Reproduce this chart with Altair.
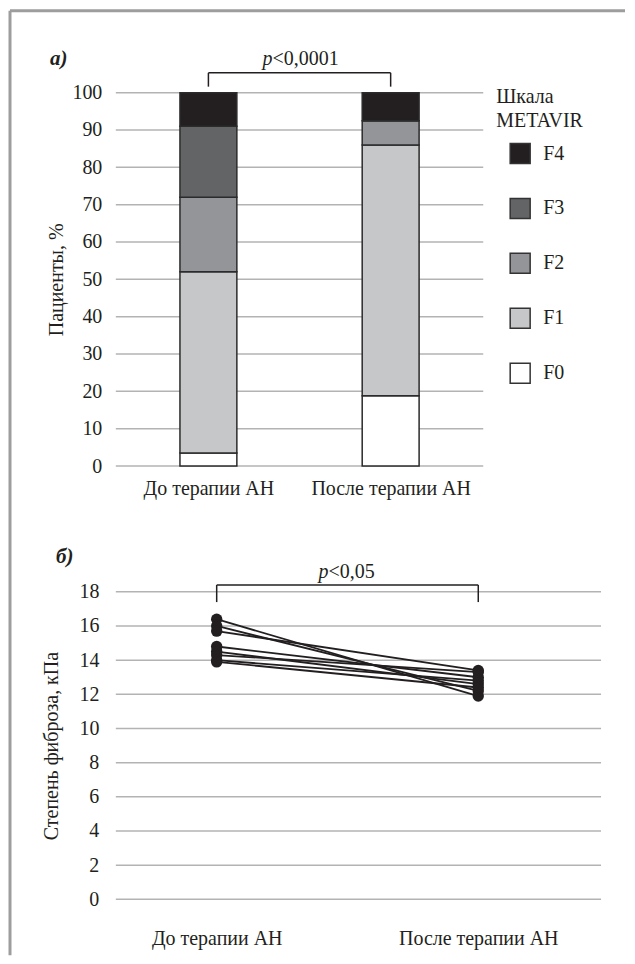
import altair as alt
import pandas as pd

# ---- data ----
phases = ["До терапии АН", "После терапии АН"]
stages = ["F0", "F1", "F2", "F3", "F4"]
before_pct = [3.5, 48.5, 20, 19, 9]
after_pct = [18.8, 67.2, 6.5, 0, 7.5]
stage_colors = ["#ffffff", "#c6c7c9", "#939598", "#636466", "#231f20"]

kpa_before = [16.4, 16.0, 15.7, 14.8, 14.5, 14.3, 14.0, 13.9]
kpa_after = [11.9, 12.2, 13.4, 13.0, 12.6, 13.3, 12.8, 12.4]

pct_ticks = list(range(0, 101, 10))
kpa_ticks = list(range(0, 19, 2))

FONT = "Liberation Serif"
INK = "#231f20"
GRID = "#b3b3b3"
FS = 20

rows = []
for ph, vals in zip(phases, [before_pct, after_pct]):
    for i, (st, v) in enumerate(zip(stages, vals)):
        rows.append({"phase": ph, "stage": st, "value": v, "ord": i})
bars_df = pd.DataFrame(rows)

pts = []
for pid, (b, a) in enumerate(zip(kpa_before, kpa_after)):
    pts.append({"pid": pid, "phase": phases[0], "kpa": b})
    pts.append({"pid": pid, "phase": phases[1], "kpa": a})
pts_df = pd.DataFrame(pts)

one = pd.DataFrame({"k": [0]})

# ---- top chart ----
TW, TH = 368, 374
YT1 = "Пациенты, %"
xtop = alt.Scale(type="point", domain=phases, padding=0.508, align=0.5)
ytop = alt.Scale(domain=[0, 100])
xax_top = alt.Axis(title=None, labelAngle=0, ticks=False, domain=False, grid=False,
                   labelPadding=13, labelFontSize=FS, labelOverlap=False)
yax_top = alt.Axis(values=pct_ticks, title=YT1, ticks=False, domain=False,
                   grid=False, labelOverlap=False, labelPadding=14, titlePadding=5,
                   labelFontSize=FS, titleFontSize=FS, titleFontWeight="normal")

grid_top = alt.Chart(pd.DataFrame({"v": pct_ticks})).mark_rule(color=GRID, strokeWidth=1.5).encode(
    y=alt.Y("v:Q", scale=ytop, axis=yax_top, title=YT1),
    x=alt.value(0), x2=alt.value(TW))

bars = alt.Chart(bars_df).mark_bar(size=57, stroke="#2b2b2b", strokeWidth=1.5).encode(
    x=alt.X("phase:N", scale=xtop, sort=phases, axis=xax_top, title=None),
    y=alt.Y("value:Q", stack="zero", scale=ytop, axis=yax_top, title=YT1),
    color=alt.Color("stage:N", scale=alt.Scale(domain=stages, range=stage_colors),
                    legend=alt.Legend(title=["Шкала", "METAVIR"], orient="none",
                                      legendX=381, legendY=-6,
                                      values=["F4", "F3", "F2", "F1", "F0"],
                                      symbolType="square", symbolSize=400,
                                      symbolStrokeColor="#333333", symbolStrokeWidth=1.5,
                                      rowPadding=29, labelFontSize=FS, titleFontSize=FS,
                                      titleFontWeight="normal", titleLineHeight=24,
                                      labelOffset=12, symbolOffset=13, titlePadding=12)),
    order=alt.Order("ord:Q"),
)

br_top = pd.DataFrame({"a": [phases[0]], "b": [phases[1]], "y": [105.3], "y2": [101.6]})
bracket_h = alt.Chart(br_top).mark_rule(color=INK, strokeWidth=1.5).encode(
    x=alt.X("a:N", scale=xtop, axis=xax_top, title=None), x2="b:N",
    y=alt.Y("y:Q", scale=ytop, axis=yax_top, title=YT1))
bracket_l = alt.Chart(br_top).mark_rule(color=INK, strokeWidth=1.5).encode(
    x=alt.X("a:N", scale=xtop, axis=xax_top, title=None),
    y=alt.Y("y:Q", scale=ytop, axis=yax_top, title=YT1), y2="y2:Q")
bracket_r = alt.Chart(br_top).mark_rule(color=INK, strokeWidth=1.5).encode(
    x=alt.X("b:N", scale=xtop, axis=xax_top, title=None),
    y=alt.Y("y:Q", scale=ytop, axis=yax_top, title=YT1), y2="y2:Q")

lab_a = alt.Chart(pd.DataFrame({"t": ["а)"]})).mark_text(
    font=FONT, fontSize=21, fontWeight="bold", fontStyle="italic", color=INK, align="left").encode(
    x=alt.value(-66), y=alt.value(-34), text="t:N")
p1 = alt.Chart(pd.DataFrame({"t": ["p"]})).mark_text(
    font=FONT, fontSize=FS, fontStyle="italic", color=INK, align="right").encode(
    x=alt.value(157), y=alt.value(-34), text="t:N")
p1b = alt.Chart(pd.DataFrame({"t": ["<0,0001"]})).mark_text(
    font=FONT, fontSize=FS, color=INK, align="left").encode(
    x=alt.value(157), y=alt.value(-34), text="t:N")

frame_v = alt.Chart(one).mark_rule(color="#9d9d9d", strokeWidth=3).encode(
    x=alt.value(-106), y=alt.value(-82), y2=alt.value(864))
frame_h = alt.Chart(one).mark_rule(color="#9d9d9d", strokeWidth=3).encode(
    x=alt.value(-106), x2=alt.value(510), y=alt.value(-82))

top = alt.layer(frame_v, frame_h, grid_top, bars, bracket_h, bracket_l, bracket_r,
                lab_a, p1, p1b).properties(width=TW, height=TH)

# ---- bottom chart ----
BW, BH = 486, 308
YT = "Степень фиброза, кПа"
xbot = alt.Scale(type="point", domain=phases, padding=0.4275, align=0.451)
ybot = alt.Scale(domain=[0, 18])
xax_bot = alt.Axis(title=None, labelAngle=0, ticks=False, domain=False, grid=False,
                   labelPadding=29, labelFontSize=FS, labelOverlap=False)
yax_bot = alt.Axis(values=kpa_ticks, title=YT, ticks=False,
                   domain=False, grid=False, labelOverlap=False,
                   labelPadding=17, titlePadding=17, labelFontSize=FS,
                   titleFontSize=FS, titleFontWeight="normal")

grid_bot = alt.Chart(pd.DataFrame({"v": kpa_ticks})).mark_rule(color=GRID, strokeWidth=1.5).encode(
    y=alt.Y("v:Q", scale=ybot, axis=yax_bot, title=YT), x=alt.value(0), x2=alt.value(BW))

lines = alt.Chart(pts_df).mark_line(color=INK, strokeWidth=1.8).encode(
    x=alt.X("phase:N", scale=xbot, sort=phases, axis=xax_bot, title=None),
    y=alt.Y("kpa:Q", scale=ybot, axis=yax_bot, title=YT),
    detail="pid:N",
)
dots = alt.Chart(pts_df).mark_circle(size=130, color=INK, opacity=1).encode(
    x=alt.X("phase:N", scale=xbot, sort=phases, axis=xax_bot, title=None),
    y=alt.Y("kpa:Q", scale=ybot, axis=yax_bot, title=YT))

br_bot = pd.DataFrame({"a": [phases[0]], "b": [phases[1]], "y": [18.4], "y2": [17.4]})
bb_h = alt.Chart(br_bot).mark_rule(color=INK, strokeWidth=1.5).encode(
    x=alt.X("a:N", scale=xbot, axis=xax_bot, title=None), x2="b:N",
    y=alt.Y("y:Q", scale=ybot, axis=yax_bot, title=YT))
bb_l = alt.Chart(br_bot).mark_rule(color=INK, strokeWidth=1.5).encode(
    x=alt.X("a:N", scale=xbot, axis=xax_bot, title=None),
    y=alt.Y("y:Q", scale=ybot, axis=yax_bot, title=YT), y2="y2:Q")
bb_r = alt.Chart(br_bot).mark_rule(color=INK, strokeWidth=1.5).encode(
    x=alt.X("b:N", scale=xbot, axis=xax_bot, title=None),
    y=alt.Y("y:Q", scale=ybot, axis=yax_bot, title=YT), y2="y2:Q")

lab_b = alt.Chart(pd.DataFrame({"t": ["б)"]})).mark_text(
    font=FONT, fontSize=21, fontWeight="bold", fontStyle="italic", color=INK, align="left").encode(
    x=alt.value(-60), y=alt.value(-35), text="t:N")
p2 = alt.Chart(pd.DataFrame({"t": ["p"]})).mark_text(
    font=FONT, fontSize=FS, fontStyle="italic", color=INK, align="right").encode(
    x=alt.value(213), y=alt.value(-20), text="t:N")
p2b = alt.Chart(pd.DataFrame({"t": ["<0,05"]})).mark_text(
    font=FONT, fontSize=FS, color=INK, align="left").encode(
    x=alt.value(213), y=alt.value(-20), text="t:N")

bottom = alt.layer(grid_bot, lines, dots, bb_h, bb_l, bb_r, lab_b, p2, p2b).properties(
    width=BW, height=BH)

chart = alt.vconcat(top, bottom, spacing=126, bounds="flush").resolve_legend(
    color="independent").resolve_scale(x="independent", y="independent").properties(
    padding=0).configure_view(stroke=None).configure_axis(
    labelFont=FONT, titleFont=FONT, labelColor=INK, titleColor=INK).configure_legend(
    labelFont=FONT, titleFont=FONT, labelColor=INK, titleColor=INK).configure_text(font=FONT)

chart.save("out.html", embed_options={"renderer": "svg", "actions": False})
